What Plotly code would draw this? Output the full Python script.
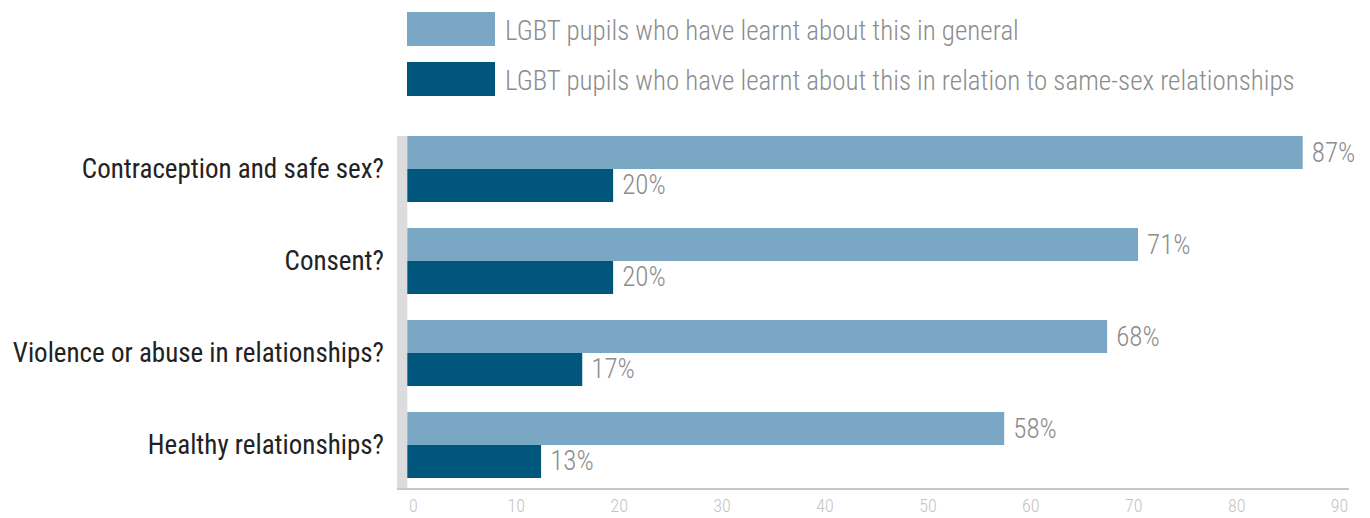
import plotly.graph_objects as go

categories = ["Contraception and safe sex?", "Consent?",
              "Violence or abuse in relationships?", "Healthy relationships?"]
series_names = ["LGBT pupils who have learnt about this in general",
                "LGBT pupils who have learnt about this in relation to same-sex relationships"]
general = [87, 71, 68, 58]
same_sex = [20, 20, 17, 13]
tick_vals = [0, 10, 20, 30, 40, 50, 60, 70, 80, 90]

colors = ["#7aa7c3", "#00567c"]
FONT = "Roboto Condensed, Liberation Sans Narrow, sans-serif"

OFF = 8  # page body margin
W, H = 1370 - OFF, 518 - OFF
L, R, T, B = 397 - OFF, 21, 123 - OFF, 30
plot_w = W - L - R
plot_h = H - T - B


def px_x(px):
    return (px - OFF - L) / plot_w


def px_y(py):
    return (H - B - (py - OFF)) / plot_h


fig = go.Figure()
for name, vals, col in zip(series_names, [general, same_sex], colors):
    fig.add_trace(go.Bar(
        y=categories, x=vals, name=name, orientation="h",
        marker=dict(color=col, line=dict(width=0)),
        text=[f" {v}%" for v in vals], textposition="outside",
        textfont=dict(family=FONT, size=27, color="#8c8c8c", weight=300),
        constraintext="none", cliponaxis=False, showlegend=False,
    ))

# grey band on the left of the value axis
fig.add_shape(type="rect", xref="x", yref="paper", x0=-1, x1=0,
              y0=0, y1=px_y(136), fillcolor="#dcdcde", line=dict(width=0),
              layer="below")

# legend drawn as swatches + text
for i, (name, col) in enumerate(zip(series_names, colors)):
    top = 12 + i * 50
    fig.add_shape(type="rect", xref="paper", yref="paper",
                  x0=px_x(407), x1=px_x(495), y0=px_y(top + 34), y1=px_y(top),
                  fillcolor=col, line=dict(width=0))
    fig.add_annotation(xref="paper", yref="paper", x=px_x(503), y=px_y(top + 19),
                       xanchor="left", yanchor="middle", text=name, showarrow=False,
                       font=dict(family=FONT, size=27, color="#8c8c8c", weight=300))

fig.update_layout(
    width=W, height=H,
    margin=dict(l=L, r=R, t=T, b=B, pad=0, autoexpand=False),
    paper_bgcolor="white", plot_bgcolor="white",
    barmode="group", bargap=0.283, bargroupgap=0,
    font=dict(family=FONT),
    xaxis=dict(range=[-1, 91.5], tickvals=tick_vals, showgrid=False, zeroline=False,
               showline=True, linecolor="#c8c8cc", linewidth=1.5, automargin=False,
               tickfont=dict(family=FONT, size=18, color="#c4c4c4", weight=300),
               ticks="", ticklabelshift=6, ticklabelstandoff=1),
    yaxis=dict(categoryorder="array", categoryarray=categories, automargin=False,
               range=[-0.5 + plot_h / 92, -0.5], showgrid=False, zeroline=False,
               showline=False, ticks="", ticklabelstandoff=12,
               tickfont=dict(family=FONT, size=27, color="#222222")),
)

fig.write_html("out.html")
